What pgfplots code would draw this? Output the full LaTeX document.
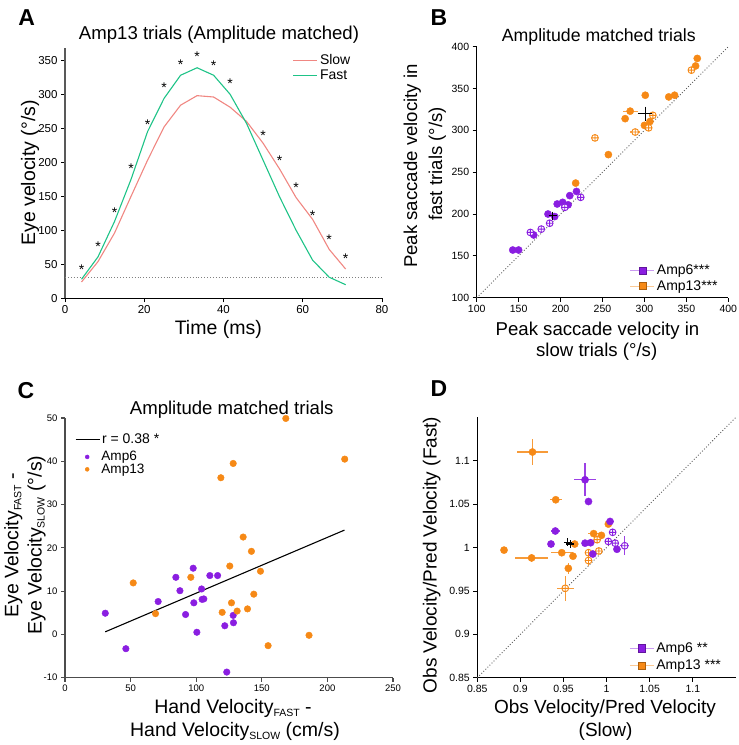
\documentclass[border=0pt]{standalone}
\usepackage{fontspec}
\setmainfont{Liberation Sans}
\usepackage{pgfplots}
\pgfplotsset{compat=1.18}
\usetikzlibrary{plotmarks}
\definecolor{pur}{RGB}{138,30,225}
\definecolor{ora}{RGB}{246,137,22}
\definecolor{slowc}{RGB}{240,135,130}
\definecolor{fastc}{RGB}{30,195,135}
\newcommand{\fs}[1]{\fontsize{#1}{#1}\selectfont}
\pgfplotsset{
  panel/.style={scale only axis, anchor=south west,
    axis x line*=bottom, axis y line*=left, axis line style={-, line width=0.8pt, black},
    tick align=outside, major tick length=4pt, tick style={line width=0.8pt, black},
    /pgf/number format/assume math mode=true, clip=false},
  lgd/.style={legend style={draw=none, fill=none, font=\fs{14}, inner sep=0pt, outer sep=0pt},
    legend cell align=left},
  lineimg/.style={legend image code/.code={\draw[##1] (0pt,0pt) -- (24pt,0pt);}},
  markimg/.style={legend image code/.code={\draw[mark repeat=2,mark phase=2,##1] plot coordinates {(0pt,0pt) (12pt,0pt) (24pt,0pt)};}},
  dotimg/.style={legend image code/.code={\path[draw opacity=0, fill opacity=0] (0pt,-1pt) rectangle (24pt,1pt); \fill[##1] (12pt,0pt) circle (2pt);}},
}
\begin{document}
\begin{tikzpicture}
\useasboundingbox (0,0) rectangle (739pt,-745pt);
% ================= A =================
\begin{axis}[panel, at={(65pt,-298.3pt)}, width=317pt, height=250.6pt,
  xmin=0, xmax=80, ymin=0, ymax=368.5, xtick={0,20,40,60,80}, ytick={0,50,...,350},
  y axis line style={line width=1.3pt, black!65},
  tick label style={font=\fs{11.5}}, lgd, lineimg,
  legend style={at={(0.719,0.981)}, anchor=north west, row sep=0pt}]
\addplot[gray, dotted, line width=0.9pt, forget plot] coordinates {(0,30) (80,30)};
\addplot[slowc, line width=1.1pt] coordinates {(4.17,24) (8.33,54) (12.5,96) (16.67,150) (20.83,203) (25,252) (29.17,284) (33.33,298) (37.5,296) (41.67,281) (45.83,260) (50,228) (54.17,190) (58.33,148) (62.5,116) (66.67,72) (70.83,43)};
\addlegendentry{Slow}
\addplot[fastc, line width=1.1pt] coordinates {(4.17,28) (8.33,61) (12.5,113) (16.67,175) (20.83,245) (25,294) (29.17,328) (33.33,339) (37.5,328) (41.67,300) (45.83,257) (50,203) (54.17,149) (58.33,100) (62.5,56) (66.67,31) (70.83,20)};
\addlegendentry{Fast}
\addplot[only marks, mark=text, text mark={*}, text mark as node=true, text mark style={font=\fs{14}, yshift=-3pt, inner sep=0pt}, forget plot] coordinates {(4.17,46) (8.33,81) (12.5,131) (16.67,195) (20.83,260) (25,314) (29.17,348) (33.33,359) (37.5,347) (41.67,320) (50,244) (54.17,207) (58.33,167) (62.5,126) (66.67,90) (70.83,62)};
\end{axis}
% ================= B =================
\begin{axis}[panel, at={(476.7pt,-297.7pt)}, width=251.6pt, height=251pt,
  xmin=100, xmax=400, ymin=100, ymax=400, xtick={100,150,...,400}, ytick={100,150,...,400},
  tick label style={font=\fs{10.5}}, lgd, markimg,
  legend style={at={(0.609,0.016)}, anchor=south west, row sep=0.4pt}]
\addplot[gray!70!black, dotted, line width=0.9pt, forget plot] coordinates {(100,100) (400,400)};
\addplot[only marks, mark=*, mark size=3.6pt, pur, forget plot] coordinates {(219,227) (211,222) (202.5,214) (196,212) (209,211) (185,200) (193,197) (168,175) (143,157) (150,157)};
\addplot[only marks, mark=oplus*, mark size=3.4pt, pur, mark options={fill=white, line width=0.9pt}, forget plot] coordinates {(224,220) (205,208) (187,189) (177,182) (164,178)};
\addplot[only marks, mark=*, mark size=3.6pt, ora, forget plot,
  error bars/.cd, x dir=both, x explicit, error mark=none, error bar style={ora!80, line width=1.2pt}]
  coordinates {(363,386) (361,377) (301,342) (329,340) (336,342) (283,323) +- (9,0) (277,314) (306.5,310.5) (300,306) (257,271) (218,237)};
\addplot[only marks, mark=oplus*, mark size=3.4pt, ora, mark options={fill=white, line width=0.9pt}, forget plot,
  error bars/.cd, x dir=both, x explicit, error mark=none, error bar style={ora!80, line width=1.2pt}]
  coordinates {(356,372) (310,318) (305,303) (289,298) +- (6,0) (241,291)};
\addplot[only marks, mark=+, mark size=7pt, black, line width=1.5pt, forget plot] coordinates {(301,320)};
\addplot[only marks, mark=+, mark size=4pt, black, line width=1.3pt, forget plot] coordinates {(190.6,198)};
\addlegendimage{pur!45, line width=1pt, mark=square*, mark size=3.6pt, mark options={fill=pur, draw=pur!70!black, line width=0.4pt}}
\addlegendentry{Amp6***}
\addlegendimage{ora!45, line width=1pt, mark=square*, mark size=3.6pt, mark options={fill=ora, draw=ora!70!black, line width=0.4pt}}
\addlegendentry{Amp13***}
\end{axis}
% ================= C =================
\begin{axis}[panel, at={(65pt,-677.7pt)}, width=328pt, height=259.7pt,
  xmin=0, xmax=250, ymin=-10, ymax=50, xtick={0,50,...,250}, ytick={-10,0,...,50},
  axis line style={line width=1.1pt, black!70}, tick style={line width=1.1pt, black!70},
  tick label style={font=\fs{9.5}}, lgd, dotimg,
  legend style={at={(0.0305,0.879)}, anchor=north west, row sep=-2.6pt, font=\fs{13.6}}]
\addplot[black, line width=1.1pt, forget plot] coordinates {(30.7,0.6) (213,24.1)};
\addplot[only marks, mark=*, mark size=3.3pt, pur, forget plot] coordinates {(30.7,4.9) (46.4,-3.3) (71,7.6) (84.5,13.2) (97.7,15.3) (87.6,10.1) (91.9,4.6) (98.2,7.3) (100.5,0.5) (104.1,10.5) (104.5,8.1) (105.8,8.2) (110.4,13.6) (116.3,13.6) (121.8,2.0) (128.2,4.4) (128.4,2.7) (123.3,-8.7)};
\addplot[only marks, mark=*, mark size=3.3pt, ora, forget plot] coordinates {(168.3,49.9) (213.2,40.5) (128.2,39.5) (118.8,36.2) (135.8,22.5) (142.1,19.2) (125.6,15.8) (149,14.6) (52,11.9) (95.9,13.2) (143.9,9.3) (126.9,7.3) (69,4.8) (119.8,5.1) (131.2,5.4) (139.1,5.9) (186,-0.2) (154.8,-2.6)};
\addlegendimage{pur}
\addlegendentry{Amp6}
\addlegendimage{ora}
\addlegendentry{Amp13}
\end{axis}
\begin{axis}[scale only axis, anchor=south west, at={(65pt,-677.7pt)}, width=328pt, height=259.7pt,
  xmin=0, xmax=250, ymin=-10, ymax=50, hide axis, lgd, lineimg,
  legend style={at={(0.0305,0.947)}, anchor=north west}]
\addplot[draw=none, forget plot] coordinates {(0,0)};
\addlegendimage{black, line width=1.1pt}
\addlegendentry{r = 0.38 *}
\end{axis}
% ================= D =================
\begin{axis}[panel, at={(477.3pt,-677.7pt)}, width=258.6pt, height=260.4pt,
  xmin=0.85, xmax=1.15, ymin=0.85, ymax=1.15, xtick={0.85,0.9,0.95,1,1.05,1.1}, ytick={0.85,0.9,0.95,1,1.05,1.1},
  tick label style={font=\fs{10.5}}, lgd, markimg,
  legend style={at={(0.588,0.018)}, anchor=south west, row sep=2pt}]
\addplot[gray!70!black, dotted, line width=0.9pt, forget plot] coordinates {(0.85,0.85) (1.15,1.15)};
\addplot[only marks, mark=*, mark size=3.6pt, ora, forget plot,
  error bars/.cd, x dir=both, x explicit, y dir=both, y explicit, error mark=none, error bar style={ora!85, line width=1.2pt}]
  coordinates {(0.914,1.110) +- (0.018,0.015) (0.941,1.055) +- (0.007,0) (0.881,0.997) +- (0,0) (0.913,0.988) +- (0.019,0.005) (0.948,0.994) +- (0.013,0) (0.961,0.990) +- (0,0) (0.9556,0.976) +- (0,0.006) (0.963,1.004) +- (0,0) (0.985,1.016) +- (0.007,0) (0.994,1.014) +- (0,0) (1.002,1.027) +- (0.004,0)};
\addplot[only marks, mark=oplus*, mark size=3.4pt, ora, mark options={fill=white, line width=0.9pt}, forget plot,
  error bars/.cd, x dir=both, x explicit, y dir=both, y explicit, error mark=none, error bar style={ora!85, line width=1.2pt}]
  coordinates {(0.979,0.994) +- (0,0) (0.991,0.996) +- (0,0) (0.979,0.985) +- (0,0.006) (0.989,1.009) +- (0,0) (0.952,0.953) +- (0.010,0.0145)};
\addplot[only marks, mark=*, mark size=3.6pt, pur, forget plot,
  error bars/.cd, x dir=both, x explicit, y dir=both, y explicit, error mark=none, error bar style={pur!85, line width=1.2pt}]
  coordinates {(0.975,1.078) +- (0.0125,0.019) (0.979,1.053) +- (0,0) (0.9405,1.019) +- (0.005,0) (0.9355,1.004) +- (0,0) (0.975,1.005) +- (0,0) (0.9815,1.0055) +- (0,0) (1.004,1.030) +- (0.004,0) (1.012,0.998) +- (0,0) (0.984,0.9925) +- (0,0)};
\addplot[only marks, mark=oplus*, mark size=3.4pt, pur, mark options={fill=white, line width=0.9pt}, forget plot,
  error bars/.cd, x dir=both, x explicit, y dir=both, y explicit, error mark=none, error bar style={pur!85, line width=1.2pt}]
  coordinates {(1.007,1.0175) +- (0,0) (1.002,1.007) +- (0,0) (1.010,1.005) +- (0,0) (1.021,1.002) +- (0.005,0.011)};
\addplot[only marks, mark=+, mark size=4pt, black, line width=1.2pt, forget plot] coordinates {(0.955,1.006) (0.958,1.004)};
\addlegendimage{pur!45, line width=1pt, mark=square*, mark size=3.6pt, mark options={fill=pur, draw=pur!70!black, line width=0.4pt}}
\addlegendentry{Amp6 **}
\addlegendimage{ora!45, line width=1pt, mark=square*, mark size=3.6pt, mark options={fill=ora, draw=ora!70!black, line width=0.4pt}}
\addlegendentry{Amp13 ***}
\end{axis}
% ================= texts =================
\node[anchor=base, font=\fs{23}\bfseries] at (26.7pt,-25pt) {A};
\node[anchor=base, font=\fs{23}\bfseries] at (439pt,-25pt) {B};
\node[anchor=base, font=\fs{23}\bfseries] at (26pt,-398pt) {C};
\node[anchor=base, font=\fs{23}\bfseries] at (439pt,-396.7pt) {D};
\node[anchor=base, font=\fs{18.6}] at (219pt,-39.3pt) {Amp13 trials (Amplitude matched)};
\node[anchor=base, font=\fs{19.5}] at (218.3pt,-334pt) {Time (ms)};
\node[anchor=base, rotate=90, font=\fs{19.5}] at (35pt,-173pt) {Eye velocity (°/s)};
\node[anchor=base, font=\fs{17.7}] at (598.8pt,-41pt) {Amplitude matched trials};
\node[anchor=base, font=\fs{18.6}] at (597.5pt,-335pt) {Peak saccade velocity in};
\node[anchor=base, font=\fs{18.6}] at (596.7pt,-356.7pt) {slow trials (°/s)};
\node[anchor=base, rotate=90, font=\fs{18.6}] at (417pt,-166pt) {Peak saccade velocity in};
\node[anchor=base, rotate=90, font=\fs{18.6}] at (442pt,-164pt) {fast trials (°/s)};
\node[anchor=base, font=\fs{18.6}] at (231.7pt,-414pt) {Amplitude matched trials};
\node[anchor=base, font=\fs{19.5}] at (233pt,-713.3pt) {Hand Velocity\raisebox{-3pt}{\fs{10.5}FAST} -};
\node[anchor=base, font=\fs{19.5}] at (235pt,-736.7pt) {Hand Velocity\raisebox{-3pt}{\fs{10.5}SLOW} (cm/s)};
\node[anchor=base, rotate=90, font=\fs{19.5}] at (18.3pt,-545pt) {Eye Velocity\raisebox{-3pt}{\fs{10.5}FAST} -};
\node[anchor=base, rotate=90, font=\fs{19.5}] at (41.7pt,-545pt) {Eye Velocity\raisebox{-3pt}{\fs{10.5}SLOW} (°/s)};
\node[anchor=base, rotate=90, font=\fs{19}] at (436.7pt,-555pt) {Obs Velocity/Pred Velocity (Fast)};
\node[anchor=base, font=\fs{19}] at (605pt,-713.3pt) {Obs Velocity/Pred Velocity};
\node[anchor=base, font=\fs{19}] at (605.6pt,-736.7pt) {(Slow)};
\end{tikzpicture}
\end{document}
